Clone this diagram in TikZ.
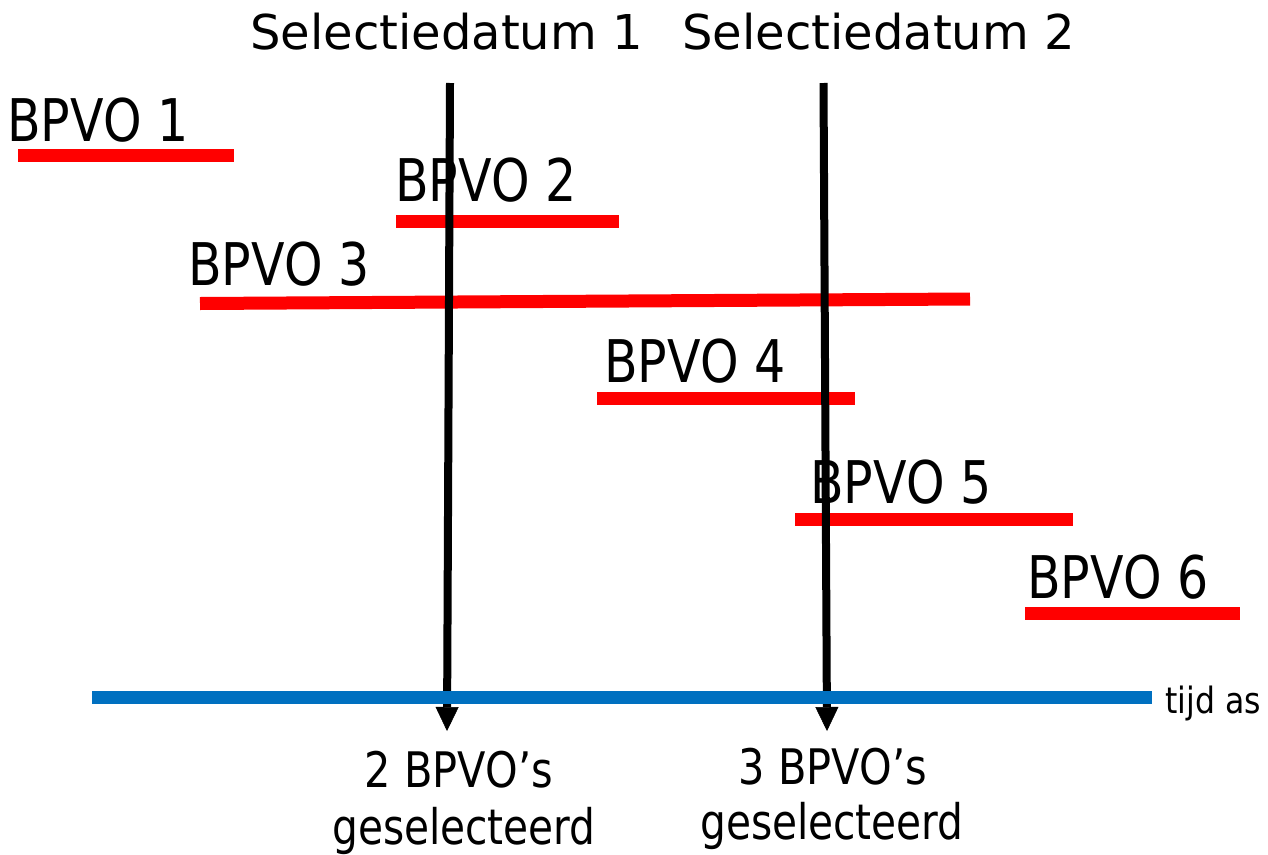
\documentclass[tikz,border=0pt]{standalone}
\usepackage{fontspec}
\setmainfont{DejaVu Sans}
\usetikzlibrary{arrows.meta}
\definecolor{barred}{HTML}{FF0000}
\definecolor{axisblue}{HTML}{0070C0}
\begin{document}
\begin{tikzpicture}[x=1pt,y=-1pt,
  bar/.style={draw=barred,line width=13pt},
  axisline/.style={draw=axisblue,line width=13pt},
  selarrow/.style={draw=black,line width=8pt,-{Triangle[width=23pt,length=24pt,line width=0.5pt]}},
  bpvo/.style={anchor=base west,inner sep=0pt,font=\fontsize{49}{49}\selectfont},
  titletext/.style={anchor=base west,inner sep=0pt,font=\fontsize{48}{48}\selectfont},
  resulttext/.style={anchor=base,inner sep=0pt,font=\fontsize{41.5}{41.5}\selectfont},
  axislabel/.style={anchor=base west,inner sep=0pt,font=\fontsize{31.5}{31.5}\selectfont}]
\useasboundingbox (0,0) rectangle (1268,854);
\fill[white] (0,0) rectangle (1268,854);

% titles
\node[titletext] (t1) at (250,49) {Selectiedatum 1};
\node[titletext] (t2) at (682,49) {Selectiedatum 2};

% red bars
\draw[bar] (18,155.5) -- (234,155.5);
\draw[bar] (396,221) -- (619,221);
\draw[bar] (200,303.5) -- (970,299);
\draw[bar] (597,398) -- (855,398);
\draw[bar] (795,519) -- (1073,519);
\draw[bar] (1025,613.5) -- (1240,613.5);

% labels
\node[bpvo] (b1) at (7,141) {\scalebox{1}[1.2]{BPVO 1}};
\node[bpvo] (b2) at (395,201) {\scalebox{1}[1.2]{BPVO 2}};
\node[bpvo] (b3) at (188,285) {\scalebox{1}[1.2]{BPVO 3}};
\node[bpvo] (b4) at (604,382) {\scalebox{1}[1.2]{BPVO 4}};
\node[bpvo] (b5) at (810,503) {\scalebox{1}[1.2]{BPVO 5}};
\node[bpvo] (b6) at (1027,598) {\scalebox{1}[1.2]{BPVO 6}};

% selection arrows
\coordinate (s1top) at (450,83);
\coordinate (s1tip) at (447,731);
\coordinate (s2top) at (823.5,83);
\coordinate (s2tip) at (827,731);
\draw[selarrow] (s1top) -- (s1tip);
\draw[selarrow] (s2top) -- (s2tip);

% time axis
\coordinate (axL) at (92,697.5);
\coordinate (axR) at (1152,697.5);
\draw[axisline] (axL) -- (axR);
\node[axislabel] (tijd) at (1165,713) {\scalebox{1}[1.15]{tijd as}};

% results
\node[resulttext] (r1a) at (459,787) {\scalebox{1}[1.18]{2 BPVO’s}};
\node[resulttext] (r1b) at (464,844) {\scalebox{0.98}[1.18]{geselecteerd}};
\node[resulttext] (r2a) at (833,784) {\scalebox{1}[1.18]{3 BPVO’s}};
\node[resulttext] (r2b) at (832,839) {\scalebox{0.98}[1.18]{geselecteerd}};
\end{tikzpicture}
\end{document}
